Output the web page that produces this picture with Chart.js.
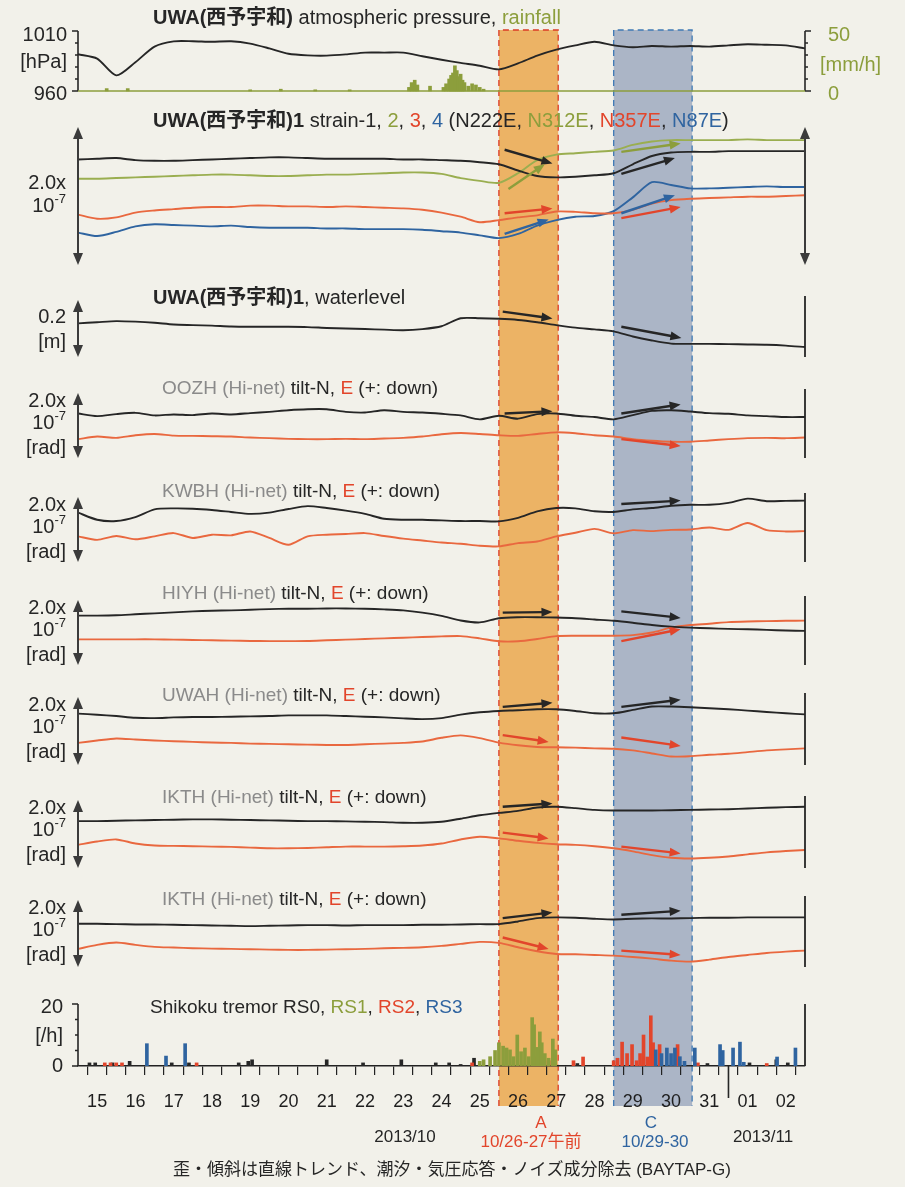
<!DOCTYPE html>
<html>
<head>
<meta charset="utf-8">
<script src="https://cdn.jsdelivr.net/npm/chart.js"></script>
<style>
  html, body { margin: 0; padding: 0; background: #f2f1ea; }
  #wrap { width: 905px; height: 1187px; }
</style>
</head>
<body>
<div id="wrap"><canvas id="chart" width="905" height="1187"></canvas></div>
<script>
// time in days of Oct 2013 (32 = 01 Nov), one sample every 12 h
const days = [15, 15.5, 16, 16.5, 17, 17.5, 18, 18.5, 19, 19.5, 20, 20.5, 21, 21.5, 22, 22.5, 23, 23.5,
  24, 24.5, 25, 25.5, 26, 26.5, 27, 27.5, 28, 28.5, 29, 29.5, 30, 30.5, 31, 31.5, 32, 32.5, 33, 33.5, 34];
const dayLabels = ['15', '16', '17', '18', '19', '20', '21', '22', '23', '24', '25', '26', '27', '28', '29', '30', '31', '01', '02'];

// UWA atmospheric pressure [hPa]
const pressure = [990.6, 987, 973, 984, 997, 1001.4, 1001.5, 1001, 1001.4, 999.5, 995.5, 991, 989.7, 989.5, 990.5, 992, 992, 992,
  989, 986, 983.4, 981, 978, 983, 989.5, 994.5, 998, 1001, 998, 996.5, 997.5, 997, 997.5, 997, 998, 999, 998.5, 998, 995.5];

// UWA rainfall [mm/h]
const rainTime = [15.75, 16.3, 19.5, 20.3, 21.2, 22.1, 23.65, 23.72, 23.8, 23.87, 24.2, 24.55, 24.62, 24.7, 24.75, 24.8,
  24.85, 24.9, 24.95, 25.0, 25.05, 25.1, 25.2, 25.3, 25.4, 25.5, 25.6];
const rainValue = [2, 2, 1, 1.5, 1, 1, 3, 7, 9, 5, 4, 3, 6, 10, 13, 15, 21, 17, 12, 14, 9, 7, 4, 6, 5, 3, 1.5];

// UWA1 strain components [x1e-8]
const strain1 = [15.3, 15.4, 15.5, 15.2, 15.1, 15.1, 15.2, 15.3, 15.4, 15.5, 15.6, 15.6, 15.5, 15.4, 15.4, 15.4, 15.4, 15.3,
  15.3, 15.2, 15.1, 14.9, 14.6, 13.7, 12.9, 12.7, 12.8, 13.0, 13.3, 14.6, 15.8, 16.3, 16.4, 16.4, 16.5, 16.5, 16.5, 16.5, 16.5];
const strain2 = [12.5, 12.5, 12.6, 12.7, 12.8, 12.9, 13.0, 13.1, 13.1, 13.0, 12.9, 12.9, 13.0, 13.1, 13.1, 13.2, 13.3, 13.4,
  13.4, 13.2, 12.6, 12.2, 11.9, 13.3, 15.2, 16.0, 16.2, 16.4, 16.6, 17.4, 17.9, 18.1, 18.1, 18.1, 18.1, 18.2, 18.1, 18.1, 18.1];
const strain3 = [7.3, 6.7, 6.9, 7.6, 7.9, 8.1, 8.3, 8.4, 8.4, 8.6, 8.6, 8.5, 8.5, 8.4, 8.5, 8.4, 8.3, 8.2,
  8.0, 7.6, 7.0, 6.2, 6.5, 6.9, 7.2, 7.75, 7.7, 7.5, 7.5, 8.0, 8.9, 9.4, 9.6, 9.7, 9.8, 9.9, 9.9, 10.0, 10.1];
const strain4 = [4.7, 4.2, 4.8, 5.6, 5.9, 5.8, 5.7, 5.6, 5.7, 5.5, 5.4, 5.4, 5.4, 5.3, 5.3, 5.2, 5.2, 5.2,
  5.1, 4.9, 4.7, 4.3, 3.9, 4.5, 5.7, 6.5, 7.0, 7.1, 7.8, 9.8, 12.0, 11.6, 11.1, 11.1, 11.2, 11.3, 11.4, 11.3, 11.3];

// UWA1 water level [m]
const waterlevel = [0.118, 0.122, 0.126, 0.124, 0.12, 0.114, 0.112, 0.11, 0.107, 0.106, 0.106, 0.106, 0.105, 0.102, 0.1, 0.098,
  0.096, 0.094, 0.098, 0.108, 0.136, 0.136, 0.134, 0.13, 0.122, 0.112, 0.103, 0.097, 0.09, 0.072, 0.058, 0.047, 0.046, 0.046,
  0.045, 0.044, 0.043, 0.04, 0.035];

// Hi-net tilt, N and E components [x1e-8 rad]
const oozhN = [13.7, 12.9, 13.5, 13.9, 13.1, 13.4, 13.2, 13.7, 13.4, 13.8, 14.2, 14.7, 15.0, 15.0, 14.2, 14.0, 14.7, 14.2,
  14.0, 13.6, 13.1, 11.9, 13.0, 12.1, 13.5, 13.7, 13.0, 12.6, 11.9, 13.2, 14.5, 14.7, 14.3, 13.8, 13.6, 13.1, 12.9, 12.6, 12.6];
const oozhE = [5.8, 6.6, 6.2, 7.0, 7.4, 6.9, 6.8, 6.7, 6.6, 6.3, 6.1, 5.9, 5.8, 5.8, 5.9, 5.8, 6.0, 6.2,
  6.6, 7.3, 7.7, 7.4, 7.0, 6.8, 7.4, 7.9, 7.6, 7.0, 6.6, 5.8, 5.3, 5.0, 5.0, 5.4, 5.8, 6.1, 6.2, 6.1, 6.3];
const kwbhN = [15.2, 13.0, 12.6, 13.8, 16.2, 16.5, 16.4, 16.0, 15.4, 14.8, 15.2, 16.3, 17.2, 16.6, 15.8, 14.8, 13.3, 13.0,
  13.0, 12.8, 12.6, 12.6, 12.5, 13.6, 15.6, 16.6, 16.5, 15.6, 15.4, 16.2, 16.6, 17.3, 17.6, 17.6, 18.2, 19.5, 18.7, 18.8, 18.9];
const kwbhE = [7.9, 6.8, 8.0, 7.0, 7.9, 8.9, 7.4, 8.4, 8.2, 9.4, 7.4, 5.3, 7.9, 8.4, 8.6, 8.9, 8.0, 7.2,
  6.6, 6.0, 5.6, 5.0, 4.8, 5.8, 6.3, 7.9, 9.0, 10.2, 8.8, 9.8, 9.5, 9.9, 10.0, 10.6, 9.9, 12.0, 9.8, 9.4, 9.5];
const hiyhN = [15.2, 15.2, 15.3, 15.6, 15.9, 16.2, 16.5, 16.7, 16.8, 17.0, 17.2, 17.3, 17.3, 17.4, 17.4, 17.3, 17.1, 16.8,
  16.1, 15.1, 13.7, 13.1, 14.4, 14.7, 14.7, 14.6, 14.4, 14.0, 13.6, 13.0, 12.3, 11.8, 11.5, 11.3, 11.1, 11.0, 10.8, 10.6, 10.5];
const hiyhE = [7.9, 7.9, 7.9, 7.9, 7.9, 7.8, 7.7, 7.6, 7.5, 7.4, 7.35, 7.35, 7.4, 7.6, 7.8, 8.0, 8.2, 8.4,
  8.6, 8.8, 8.9, 8.2, 7.3, 7.3, 8.0, 8.9, 9.0, 9.0, 9.0, 9.2, 10.0, 11.5, 12.3, 12.7, 13.2, 13.4, 13.5, 13.6, 13.65];
const uwahN = [15.1, 14.8, 14.4, 13.9, 13.8, 14.0, 14.1, 14.1, 14.2, 14.3, 14.4, 14.6, 14.6, 14.6, 14.4, 14.2, 14.0, 13.7,
  13.5, 13.8, 14.8, 15.5, 15.9, 16.1, 16.4, 16.4, 15.9, 15.2, 15.2, 16.2, 17.2, 17.2, 17.0, 16.7, 16.4, 16.0, 15.6, 15.2, 14.9];
const uwahE = [6.5, 7.2, 7.8, 7.5, 7.2, 7.0, 6.8, 6.6, 6.5, 6.3, 6.2, 6.1, 6.0, 5.9, 5.9, 6.1, 6.3, 6.5,
  6.9, 8.0, 8.7, 7.9, 6.6, 5.8, 5.3, 5.2, 5.1, 4.9, 4.8, 4.3, 3.4, 2.5, 2.6, 3.0, 3.3, 3.8, 4.3, 4.6, 4.9];
const ikthN = [13.8, 13.8, 13.9, 14.0, 14.1, 14.2, 14.3, 14.3, 14.2, 14.1, 14.0, 13.9, 13.8, 13.8, 13.7, 13.6, 13.5, 13.3,
  13.3, 13.6, 14.5, 15.5, 16.2, 16.8, 17.8, 18.0, 17.6, 17.1, 16.9, 16.9, 16.9, 17.0, 17.1, 17.2, 17.3, 17.5, 17.7, 17.9, 18.0];
const ikthE = [6.8, 7.8, 8.4, 7.2, 6.6, 6.5, 6.4, 6.3, 6.2, 6.0, 5.8, 5.8, 5.9, 6.1, 6.3, 6.3, 6.3, 6.4,
  6.6, 7.2, 8.4, 9.2, 8.7, 8.0, 7.4, 7.0, 6.8, 6.4, 5.8, 4.9, 3.8, 3.0, 2.8, 3.0, 3.4, 4.0, 4.6, 5.0, 5.3];
const ikth2N = [12.9, 12.9, 12.8, 12.7, 12.7, 12.6, 12.5, 12.4, 12.3, 12.2, 12.3, 12.4, 12.5, 12.5, 12.4, 12.5, 12.5, 12.5,
  12.6, 12.6, 12.7, 12.8, 12.8, 13.6, 14.6, 14.8, 14.7, 14.4, 14.2, 14.4, 14.5, 14.5, 14.6, 14.7, 14.7, 14.8, 14.8, 14.8, 14.8];
const ikth2E = [5.4, 6.6, 7.3, 6.6, 6.0, 5.8, 5.6, 5.5, 5.4, 5.3, 5.2, 5.1, 5.1, 5.2, 5.3, 5.4, 5.6, 5.7,
  5.9, 6.3, 6.9, 7.5, 7.2, 5.9, 4.7, 3.9, 3.8, 3.6, 3.4, 3.0, 2.5, 1.9, 1.6, 2.2, 3.0, 3.6, 4.2, 4.6, 4.9];

// Shikoku tremor counts [/h] per region
const rs0Time = [15.3, 15.45, 15.9, 16.35, 17.45, 17.9, 19.2, 19.45, 19.55, 21.5, 22.45, 23.45, 24.35, 24.7, 25.0, 25.35, 26.9, 28.05, 31.45, 32.55, 33.25, 33.55];
const rs0Value = [1, 1, 1, 1.5, 1, 1, 1, 1.5, 2, 2, 1, 2, 1, 1, 0.5, 2.5, 3, 0.8, 0.8, 1, 2, 1];
const rs1Time = [25.5, 25.6, 25.77, 25.9, 26.0, 26.11, 26.2, 26.29, 26.38, 26.48, 26.58, 26.68, 26.78, 26.87, 26.92, 27.0, 27.07, 27.12, 27.2, 27.3, 27.41, 27.47];
const rs1Value = [1.5, 2, 3, 5, 7.5, 6.4, 5.8, 5.2, 3, 10, 4.6, 5.8, 3, 15.6, 13.3, 6, 11, 7.5, 4, 2.5, 8.7, 5.2];
const rs2Time = [15.7, 15.85, 16.0, 16.15, 18.1, 25.3, 26.95, 27.15, 27.3, 27.45, 27.95, 28.2, 29.0, 29.1, 29.22, 29.35, 29.48, 29.6, 29.69, 29.78, 29.88, 29.97, 30.03, 30.2, 30.67, 31.2, 33.0];
const rs2Value = [1, 1, 1, 1, 1, 1, 2.9, 1.5, 1.7, 2.3, 1.7, 2.9, 1.7, 2.5, 7.7, 4, 6.9, 1.7, 4, 10, 2.9, 16.2, 7.5, 6.9, 6.9, 1, 0.8];
const rs3Time = [16.8, 17.3, 17.8, 30.1, 30.25, 30.39, 30.5, 30.6, 30.73, 30.85, 31.12, 31.78, 31.85, 32.12, 32.3, 32.4, 33.27, 33.75];
const rs3Value = [7.2, 3.2, 7.2, 5.2, 4, 5.8, 4, 5.8, 3, 1.5, 5.8, 6.9, 5, 5.8, 7.7, 1.2, 2.9, 5.8];

// event windows A and C (days)
const eventFrom = [26, 29];
const eventTo = [27.55, 31.05];

// trend arrows drawn on the records: axis, colour, from (day, value), to (day, value)
const trendArrows = [
  ['yS', 'black', 26.15, 16.7, 27.4, 14.7], ['yS', 'olive', 26.25, 11.0, 27.2, 14.6],
  ['yS', 'red', 26.15, 7.5, 27.4, 8.2], ['yS', 'blue', 26.15, 4.5, 27.3, 6.6],
  ['yS', 'olive', 29.2, 16.4, 30.75, 17.6], ['yS', 'black', 29.2, 13.2, 30.6, 15.5],
  ['yS', 'blue', 29.2, 7.5, 30.6, 10.1], ['yS', 'red', 29.2, 6.8, 30.75, 8.4],
  ['yW', 'black', 26.1, 0.159, 27.4, 0.135], ['yW', 'black', 29.2, 0.106, 30.77, 0.067],
  ['yT1', 'black', 26.15, 13.7, 27.4, 14.4], ['yT1', 'black', 29.2, 13.7, 30.75, 16.5], ['yT1', 'red', 29.2, 5.8, 30.75, 3.7],
  ['yT2', 'black', 29.2, 17.85, 30.75, 18.9],
  ['yT3', 'black', 26.1, 16.1, 27.4, 16.3], ['yT3', 'black', 29.2, 16.5, 30.75, 14.5], ['yT3', 'red', 29.2, 7.35, 30.75, 11.0],
  ['yT4', 'black', 26.1, 17.1, 27.4, 18.3], ['yT4', 'black', 29.2, 17.1, 30.75, 19.2],
  ['yT4', 'red', 26.1, 8.8, 27.3, 6.8], ['yT4', 'red', 29.2, 8.1, 30.75, 5.6],
  ['yT5', 'black', 26.1, 18.0, 27.4, 19.0], ['yT5', 'red', 26.1, 10.4, 27.3, 8.7], ['yT5', 'red', 29.2, 6.3, 30.75, 4.3],
  ['yT6', 'black', 26.1, 14.6, 27.4, 16.3], ['yT6', 'black', 29.2, 15.6, 30.75, 16.8],
  ['yT6', 'red', 26.1, 8.8, 27.3, 5.4], ['yT6', 'red', 29.2, 4.9, 30.75, 3.6]
];

const FONT = "'Liberation Sans', Arial, 'Noto Sans CJK JP', sans-serif";
const COL = {
  black: '#262626', olive: '#8c9e3c', lightOlive: '#9aae50', red: '#e2452b', line: '#e9683f',
  blue: '#2f64a0', gray: '#8a8a8a', shadeA: '#ecb365', shadeC: '#abb5c6', edgeA: '#dc3b26', edgeC: '#3f7ab5'
};
const AREA_TOP = 30, AREA_BOTTOM = 1066;

// pixel bands of each panel and the value at band bottom / top
const bands = {
  yP: [31, 91, 960, 1010], yR: [31, 91, 0, 50], yS: [127, 265, 0, 20], yW: [300, 357, 0, 0.2],
  yT1: [393, 458, 0, 20], yT2: [497, 562, 0, 20], yT3: [600, 665, 0, 20], yT4: [697, 765, 0, 20],
  yT5: [800, 868, 0, 20], yT6: [900, 967, 0, 20], yQ: [1004, 1066, 0, 20]
};

function bandScale([top, bottom, lo, hi]) {
  const k = (hi - lo) / (bottom - top);
  return { type: 'linear', display: false, min: lo - (AREA_BOTTOM - bottom) * k, max: hi + (top - AREA_TOP) * k };
}

const pts = (xs, ys) => xs.map((x, i) => ({ x: x, y: ys[i] }));
const line = (axis, ys, color) => ({
  type: 'line', yAxisID: axis, data: pts(days, ys), borderColor: color, borderWidth: 1.9,
  pointRadius: 0, tension: 0.25, fill: false
});
const bars = (axis, xs, ys, color) => ({
  type: 'bar', yAxisID: axis, data: pts(xs, ys), backgroundColor: color, borderWidth: 0,
  barThickness: 3, grouped: false
});

const datasets = [
  bars('yR', rainTime, rainValue, COL.olive),
  line('yP', pressure, COL.black),
  line('yS', strain1, COL.black), line('yS', strain2, COL.lightOlive), line('yS', strain3, COL.line), line('yS', strain4, COL.blue),
  line('yW', waterlevel, COL.black),
  line('yT1', oozhN, COL.black), line('yT1', oozhE, COL.line),
  line('yT2', kwbhN, COL.black), line('yT2', kwbhE, COL.line),
  line('yT3', hiyhN, COL.black), line('yT3', hiyhE, COL.line),
  line('yT4', uwahN, COL.black), line('yT4', uwahE, COL.line),
  line('yT5', ikthN, COL.black), line('yT5', ikthE, COL.line),
  line('yT6', ikth2N, COL.black), line('yT6', ikth2E, COL.line),
  bars('yQ', rs1Time, rs1Value, COL.olive),
  bars('yQ', rs3Time, rs3Value, COL.blue),
  bars('yQ', rs2Time, rs2Value, COL.red),
  bars('yQ', rs0Time, rs0Value, COL.black)
];

const scales = {
  x: {
    type: 'linear', position: 'bottom', min: 15, max: 34, offset: false,
    afterBuildTicks: s => { s.ticks = days.map(v => ({ value: v })); },
    afterFit: s => { s.height = 1187 - AREA_BOTTOM; },
    ticks: {
      autoSkip: false, maxRotation: 0, minRotation: 0, padding: 16, color: '#1e1e1e',
      font: { family: FONT, size: 18 },
      callback: v => (v % 1 === 0.5 ? dayLabels[Math.floor(v) - 15] : '')
    },
    grid: { drawOnChartArea: false, tickLength: 9, color: '#222', lineWidth: 1.2 },
    border: { color: '#222', width: 1.6 }
  }
};
for (const id in bands) scales[id] = bandScale(bands[id]);

// title rows: x, y, font size, segments [text, colour, bold]
const titles = [
  [153, 18, 20, [['UWA(西予宇和)', 'black', true], [' atmospheric pressure, ', 'black'], ['rainfall', 'olive']]],
  [153, 121, 20, [['UWA(西予宇和)1', 'black', true], [' strain-1, ', 'black'], ['2', 'olive'], [', ', 'black'], ['3', 'red'],
    [', ', 'black'], ['4', 'blue'], [' (N222E, ', 'black'], ['N312E', 'olive'], [', ', 'black'], ['N357E', 'red'],
    [', ', 'black'], ['N87E', 'blue'], [')', 'black']]],
  [153, 298, 20, [['UWA(西予宇和)1', 'black', true], [', waterlevel', 'black']]],
  [162, 389, 19, [['OOZH (Hi-net) ', 'gray'], ['tilt-N, ', 'black'], ['E', 'red'], [' (+: down)', 'black']]],
  [162, 492, 19, [['KWBH (Hi-net) ', 'gray'], ['tilt-N, ', 'black'], ['E', 'red'], [' (+: down)', 'black']]],
  [162, 594, 19, [['HIYH (Hi-net) ', 'gray'], ['tilt-N, ', 'black'], ['E', 'red'], [' (+: down)', 'black']]],
  [162, 696, 19, [['UWAH (Hi-net) ', 'gray'], ['tilt-N, ', 'black'], ['E', 'red'], [' (+: down)', 'black']]],
  [162, 798, 19, [['IKTH (Hi-net) ', 'gray'], ['tilt-N, ', 'black'], ['E', 'red'], [' (+: down)', 'black']]],
  [162, 900, 19, [['IKTH (Hi-net) ', 'gray'], ['tilt-N, ', 'black'], ['E', 'red'], [' (+: down)', 'black']]],
  [150, 1008, 19, [['Shikoku tremor RS0, ', 'black'], ['RS1', 'olive'], [', ', 'black'], ['RS2', 'red'], [', ', 'black'], ['RS3', 'blue']]]
];

function head(ctx, x, y, ang, len, half) {
  const c = Math.cos(ang), s = Math.sin(ang);
  ctx.beginPath();
  ctx.moveTo(x, y);
  ctx.lineTo(x - len * c + half * s, y - len * s - half * c);
  ctx.lineTo(x - len * c - half * s, y - len * s + half * c);
  ctx.closePath();
  ctx.fill();
}

function arrow(ctx, x0, y0, x1, y1, color, width, both, len, half) {
  const ang = Math.atan2(y1 - y0, x1 - x0);
  const c = Math.cos(ang), s = Math.sin(ang);
  ctx.strokeStyle = color;
  ctx.fillStyle = color;
  ctx.lineWidth = width;
  ctx.beginPath();
  ctx.moveTo(both ? x0 + (len - 2) * c : x0, both ? y0 + (len - 2) * s : y0);
  ctx.lineTo(x1 - (len - 2) * c, y1 - (len - 2) * s);
  ctx.stroke();
  head(ctx, x1, y1, ang, len, half);
  if (both) head(ctx, x0, y0, ang + Math.PI, len, half);
}

function text(ctx, str, x, y, size, color, align) {
  ctx.font = size + 'px ' + FONT;
  ctx.fillStyle = color;
  ctx.textAlign = align || 'left';
  ctx.textBaseline = 'middle';
  ctx.fillText(str, x, y);
}

function tenMinus7(ctx, xr, y) {
  ctx.textBaseline = 'middle';
  ctx.textAlign = 'right';
  ctx.fillStyle = COL.black;
  ctx.font = '13px ' + FONT;
  const w = ctx.measureText('-7').width;
  ctx.fillText('-7', xr, y - 7);
  ctx.font = '20px ' + FONT;
  ctx.fillText('10', xr - w, y);
}

const overlay = {
  id: 'overlay',
  beforeDraw(chart) {
    const { ctx, scales: { x } } = chart;
    ctx.save();
    ctx.fillStyle = '#f2f1ea';
    ctx.fillRect(0, 0, chart.width, chart.height);
    const fills = [COL.shadeA, COL.shadeC], edges = [COL.edgeA, COL.edgeC];
    eventFrom.forEach((from, i) => {
      const x0 = x.getPixelForValue(from), x1 = x.getPixelForValue(eventTo[i]);
      ctx.fillStyle = fills[i];
      ctx.fillRect(x0, 30, x1 - x0, 1106 - 30);
      ctx.strokeStyle = edges[i];
      ctx.lineWidth = 1.3;
      ctx.setLineDash([6, 4]);
      ctx.beginPath();
      ctx.moveTo(x0, 1106); ctx.lineTo(x0, 30); ctx.lineTo(x1, 30); ctx.lineTo(x1, 1106);
      ctx.stroke();
    });
    ctx.restore();
  },
  afterDatasetsDraw(chart) {
    const { ctx, scales } = chart;
    ctx.save();
    for (const [axis, color, d0, v0, d1, v1] of trendArrows) {
      const sy = scales[axis];
      arrow(ctx, scales.x.getPixelForValue(d0), sy.getPixelForValue(v0),
        scales.x.getPixelForValue(d1), sy.getPixelForValue(v1), COL[color], 2.4, false, 11, 4.5);
    }
    ctx.restore();
  },
  afterDraw(chart) {
    const { ctx, scales } = chart;
    const x = scales.x;
    const L = x.getPixelForValue(15), R = x.getPixelForValue(34);
    const py = (id, v) => scales[id].getPixelForValue(v);
    ctx.save();

    // pressure / rainfall axes
    ctx.strokeStyle = COL.black;
    ctx.lineWidth = 1.6;
    ctx.beginPath();
    ctx.moveTo(L, py('yP', 1010)); ctx.lineTo(L, py('yP', 960));
    ctx.moveTo(R, py('yR', 50)); ctx.lineTo(R, py('yR', 0));
    [1010, 1000, 990, 980, 970, 960].forEach((v, i) => {
      const len = (i === 0 || i === 5) ? 6 : 3;
      ctx.moveTo(L, py('yP', v)); ctx.lineTo(L - len, py('yP', v));
    });
    [50, 40, 30, 20, 10, 0].forEach((v, i) => {
      const len = (i === 0 || i === 5) ? 6 : 3;
      ctx.moveTo(R, py('yR', v)); ctx.lineTo(R + len, py('yR', v));
    });
    ctx.stroke();
    ctx.strokeStyle = COL.olive;
    ctx.lineWidth = 1.5;
    ctx.beginPath();
    ctx.moveTo(L, py('yR', 0)); ctx.lineTo(R, py('yR', 0));
    ctx.stroke();
    text(ctx, '1010', 67, 35, 20, COL.black, 'right');
    text(ctx, '[hPa]', 67, 62, 20, COL.black, 'right');
    text(ctx, '960', 67, 94, 20, COL.black, 'right');
    text(ctx, '50', 828, 35, 20, COL.olive);
    text(ctx, '[mm/h]', 820, 65, 20, COL.olive);
    text(ctx, '0', 828, 94, 20, COL.olive);

    // scale-bar arrows and right frame lines
    const arrowCol = '#3b3b3b';
    arrow(ctx, L, py('yS', 20), L, py('yS', 0), arrowCol, 2, true, 12, 5);
    arrow(ctx, R, py('yS', 20), R, py('yS', 0), arrowCol, 2, true, 12, 5);
    arrow(ctx, L, py('yW', 0.2), L, py('yW', 0), arrowCol, 2, true, 12, 5);
    ['yT1', 'yT2', 'yT3', 'yT4', 'yT5', 'yT6'].forEach(id => {
      arrow(ctx, L, py(id, 20), L, py(id, 0), arrowCol, 2, true, 12, 5);
    });
    ctx.strokeStyle = COL.black;
    ctx.lineWidth = 1.8;
    ctx.beginPath();
    ['yW', 'yT1', 'yT2', 'yT3', 'yT4', 'yT5', 'yT6'].forEach(id => {
      const hi = bands[id][3];
      ctx.moveTo(R, py(id, hi) - 4); ctx.lineTo(R, py(id, 0));
    });
    ctx.moveTo(R, py('yQ', 20)); ctx.lineTo(R, py('yQ', 0));
    ctx.stroke();

    // tremor axis
    ctx.lineWidth = 1.6;
    ctx.beginPath();
    ctx.moveTo(L, py('yQ', 20)); ctx.lineTo(L, py('yQ', 0));
    [20, 15, 10, 5, 0].forEach((v, i) => {
      const len = (i === 0 || i === 4) ? 6 : 3;
      ctx.moveTo(L, py('yQ', v)); ctx.lineTo(L - len, py('yQ', v));
    });
    // month boundary tick
    ctx.moveTo(x.getPixelForValue(32), AREA_BOTTOM); ctx.lineTo(x.getPixelForValue(32), 1098);
    ctx.stroke();
    text(ctx, '20', 63, 1007, 20, COL.black, 'right');
    text(ctx, '[/h]', 63, 1036, 20, COL.black, 'right');
    text(ctx, '0', 63, 1066, 20, COL.black, 'right');

    // left scale labels
    text(ctx, '2.0x', 66, 183, 20, COL.black, 'right');
    tenMinus7(ctx, 66, 206);
    text(ctx, '0.2', 66, 317, 20, COL.black, 'right');
    text(ctx, '[m]', 66, 342, 20, COL.black, 'right');
    ['yT1', 'yT2', 'yT3', 'yT4', 'yT5', 'yT6'].forEach(id => {
      const top = bands[id][0];
      text(ctx, '2.0x', 66, top + 8, 20, COL.black, 'right');
      tenMinus7(ctx, 66, top + 30);
      text(ctx, '[rad]', 66, top + 55, 20, COL.black, 'right');
    });

    // panel titles
    for (const [tx, ty, size, segs] of titles) {
      let cx = tx;
      for (const [str, color, bold] of segs) {
        ctx.font = (bold ? 'bold ' : '') + size + 'px ' + FONT;
        ctx.fillStyle = COL[color];
        ctx.textAlign = 'left';
        ctx.textBaseline = 'middle';
        ctx.fillText(str, cx, ty);
        cx += ctx.measureText(str).width;
      }
    }

    // date and event notes
    text(ctx, '2013/10', 405, 1137, 17, COL.black, 'center');
    text(ctx, '2013/11', 763, 1137, 17, COL.black, 'center');
    text(ctx, 'A', 541, 1123, 17, COL.red, 'center');
    text(ctx, '10/26-27午前', 531, 1142, 17, COL.red, 'center');
    text(ctx, 'C', 651, 1123, 17, COL.blue, 'center');
    text(ctx, '10/29-30', 655, 1142, 17, COL.blue, 'center');
    text(ctx, '歪・傾斜は直線トレンド、潮汐・気圧応答・ノイズ成分除去 (BAYTAP-G)', 452, 1170, 17, COL.black, 'center');
    ctx.restore();
  }
};

new Chart(document.getElementById('chart'), {
  type: 'line',
  data: { datasets: datasets },
  options: {
    responsive: false,
    animation: false,
    devicePixelRatio: 1,
    layout: { padding: { left: 78, right: 100, top: AREA_TOP, bottom: 0 } },
    plugins: { legend: { display: false }, tooltip: { enabled: false } },
    scales: scales
  },
  plugins: [overlay]
});
</script>
</body>
</html>
